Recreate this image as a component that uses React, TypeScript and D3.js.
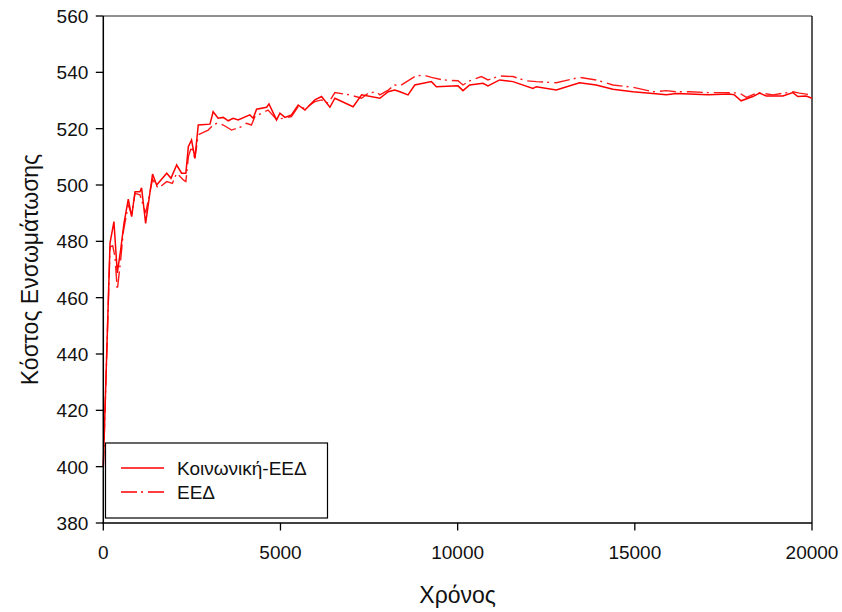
import React from "react";
import * as d3 from "d3";

// Κοινωνική-ΕΕΔ (solid)
const socialTime = [0, 190, 300, 395, 490, 585, 705, 800, 895, 1035, 1080, 1195, 1390, 1505, 1790, 1910, 2070, 2210, 2330, 2400, 2490, 2585, 2680, 3010, 3100, 3240, 3385, 3525, 3665, 3805, 4135, 4230, 4325, 4610, 4675, 4890, 4985, 5125, 5310, 5500, 5690, 5970, 6160, 6395, 6535, 7050, 7290, 7805, 8040, 8225, 8370, 8600, 8790, 9260, 9400, 10010, 10150, 10340, 10715, 10855, 11185, 11560, 12125, 12220, 12785, 13440, 13910, 14380, 14945, 15510, 15890, 16170, 16545, 17060, 17670, 17810, 18000, 18330, 18520, 18710, 19180, 19460, 19600, 19835, 20000];
const socialCost = [400, 479.4, 487, 468.8, 477, 486.5, 495, 488.8, 497.6, 497.6, 499, 486.4, 503.9, 500, 504.2, 502.4, 507.1, 504.2, 504.2, 513.6, 516, 509.5, 521.3, 521.6, 526, 523.7, 524, 522.8, 523.7, 523.1, 524.9, 523.7, 526.9, 527.6, 528.8, 523.1, 525.5, 524, 524.9, 528.4, 526.6, 530.2, 531.4, 527.6, 530.8, 527.8, 532, 530.8, 533.1, 533.7, 533.1, 532, 535.5, 536.7, 534.9, 535.2, 533.5, 535.5, 536.1, 535.2, 537.3, 536.7, 534.3, 534.9, 533.7, 536.3, 535.5, 534, 533.1, 532.5, 532, 532.5, 532.3, 532, 532.3, 532, 529.9, 531.4, 532.6, 531.6, 531.6, 532.8, 531.4, 531.6, 530.8];

// ΕΕΔ (dash-dot)
const eedTime = [0, 190, 265, 330, 395, 490, 565, 705, 800, 895, 1035, 1195, 1390, 1550, 1790, 1950, 2070, 2260, 2330, 2400, 2490, 2585, 2680, 2960, 3100, 3240, 3385, 3620, 3900, 4040, 4180, 4280, 4650, 4890, 5080, 5310, 5500, 5690, 5970, 6160, 6350, 6535, 6960, 7290, 7480, 7710, 7805, 8040, 8225, 8370, 8790, 9025, 9260, 9590, 10010, 10150, 10340, 10670, 10855, 11185, 11560, 11935, 12220, 12785, 13440, 13910, 14380, 14945, 15510, 15890, 16170, 16545, 17060, 17670, 17960, 18150, 18470, 18900, 19460, 19650, 20000];
const eedCost = [400, 478, 478.4, 474.5, 462.7, 473.4, 483.4, 493, 489.4, 497, 496.5, 490, 502, 498.8, 501.2, 500.6, 504.2, 501.8, 501.2, 510, 513.6, 509.5, 517.8, 519.5, 521.3, 522.1, 521.3, 519.5, 520.7, 521.9, 521.3, 524.3, 526.6, 523.3, 523.7, 524.3, 527.8, 527.2, 529.6, 530.2, 529, 532.8, 532, 530.8, 532.6, 533.1, 532, 533.7, 535.5, 535.2, 538.5, 539.1, 538.2, 537.3, 537, 535.5, 537, 538.5, 537.3, 538.7, 538.5, 537, 536.7, 536.3, 538.2, 537.3, 535.5, 534.7, 533.1, 533.5, 533.1, 533.1, 532.8, 532.8, 532.6, 531.1, 532.8, 532, 533.1, 532.6, 532];

const xTicks = [0, 5000, 10000, 15000, 20000];
const yTicks = [380, 400, 420, 440, 460, 480, 500, 520, 540, 560];
const legendLabels = ["Κοινωνική-ΕΕΔ", "ΕΕΔ"];

const font = "Arial, 'Liberation Sans', sans-serif";

const App = () => {
  const left = 103.3, right = 812, top = 16, bottom = 523;

  const x = d3.scaleLinear().domain([0, 20000]).range([left, right]);
  const y = d3.scaleLinear().domain([380, 560]).range([bottom, top]);

  const line = d3.line<[number, number]>()
    .x(d => x(d[0]))
    .y(d => y(d[1]));

  const socialPath = line(d3.zip(socialTime, socialCost) as [number, number][]);
  const eedPath = line(d3.zip(eedTime, eedCost) as [number, number][]);

  return (
    <svg width="842" height="612" style={{ position: "absolute", left: 0, top: 0, background: "white" }}>
      <rect width="842" height="612" fill="white" />

      {/* frame: top and right thin */}
      <line x1={left} x2={right} y1={top} y2={top} stroke="#222" strokeWidth="1" />
      <line x1={right} x2={right} y1={top} y2={bottom} stroke="#000" strokeWidth="1.3" />

      <path d={eedPath || ""} fill="none" stroke="#ff1a1a" strokeWidth="1.4" strokeDasharray="16,4,2,5" />
      <path d={socialPath || ""} fill="none" stroke="#ff0000" strokeWidth="1.5" />

      {/* axes */}
      <line x1={left} x2={left} y1={top} y2={bottom} stroke="#000" strokeWidth="1.5" />
      <line x1={left - 1} x2={right} y1={bottom} y2={bottom} stroke="#000" strokeWidth="1.5" />

      {yTicks.map(t => (
        <g key={t}>
          <line x1={left - 7.5} x2={left} y1={y(t)} y2={y(t)} stroke="#000" strokeWidth="1.3" />
          <text x={left - 15} y={y(t) + 7} textAnchor="end" fontSize="19" fontFamily={font} fill="#111">{t}</text>
        </g>
      ))}
      {xTicks.map(t => (
        <g key={t}>
          <line x1={x(t)} x2={x(t)} y1={bottom} y2={bottom + 7.5} stroke="#000" strokeWidth="1.3" />
          <text x={x(t)} y={559} textAnchor="middle" fontSize="19" fontFamily={font} fill="#111">{t}</text>
        </g>
      ))}

      <text x={(left + right) / 2} y={603} textAnchor="middle" fontSize="23" fontFamily={font} fill="#111">Χρόνος</text>
      <text transform={`translate(38, ${(top + bottom) / 2}) rotate(-90)`} textAnchor="middle" fontSize="23" fontFamily={font} fill="#111">Κόστος Ενσωμάτωσης</text>

      {/* legend */}
      <rect x="105.5" y="443" width="222" height="75" fill="white" stroke="#000" strokeWidth="1.2" />
      {legendLabels.map((label, i) => (
        <g key={label}>
          <line x1={121} x2={164} y1={468 + i * 24} y2={468 + i * 24} stroke="#ff0000" strokeWidth="1.5"
            strokeDasharray={i === 1 ? "16,4,2,5" : undefined} />
          <text x={177} y={475 + i * 24} fontSize="19" fontFamily={font} fill="#111">{label}</text>
        </g>
      ))}
    </svg>
  );
};

export default App;
